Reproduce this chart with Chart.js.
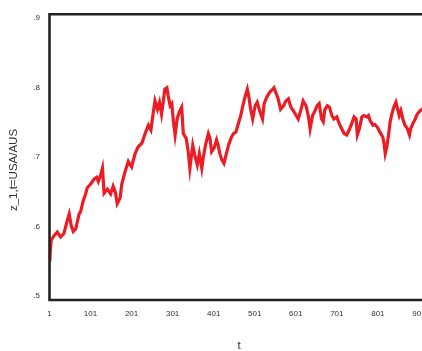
<!DOCTYPE html>
<html>
<head>
<meta charset="utf-8">
<script src="https://cdn.jsdelivr.net/npm/chart.js@4/dist/chart.umd.min.js"></script>
<style>
  html, body { margin: 0; padding: 0; background: #fff; overflow: hidden; width: 422px; height: 351px; }
  #wrap { width: 480px; height: 351px; }
</style>
</head>
<body>
<div id="wrap"><canvas id="c" width="480" height="351"></canvas></div>
<script>
// Time index t and the series z_1,t (USA/AUS)
const tValues = [
  1, 2, 5, 12, 20, 28, 36, 44, 49, 54,
  59, 65, 73, 77, 83, 89, 93, 101, 109, 116,
  120, 126, 130, 134, 142, 150, 156, 162, 166, 173,
  177, 185, 193, 201, 209, 217, 226, 234, 242, 248,
  254, 258, 264, 269, 274, 278, 282, 287, 290, 295,
  299, 303, 307, 312, 317, 323, 327, 334, 339, 343,
  350, 355, 361, 366, 372, 376, 382, 388, 392, 396,
  402, 408, 412, 416, 421, 426, 431, 437, 443, 449,
  455, 461, 467, 472, 477, 483, 487, 491, 496, 502,
  507, 514, 520, 524, 530, 537, 542, 548, 555, 558,
  564, 571, 577, 583, 589, 595, 602, 607, 613, 619,
  626, 632, 636, 642, 648, 653, 658, 664, 668, 672,
  678, 683, 689, 694, 701, 707, 713, 719, 725, 731,
  737, 743, 748, 751, 756, 762, 767, 774, 778, 782,
  789, 794, 800, 806, 813, 816, 819, 823, 827, 831,
  835, 840, 845, 848, 853, 857, 862, 867, 873, 878,
  881, 886, 892, 897, 904, 909, 912
];
const zValues = [
  .552, .556, .580, .587, .592, .585, .590, .608, .618, .601,
  .593, .597, .618, .622, .637, .647, .656, .661, .668, .671,
  .665, .675, .684, .648, .654, .647, .658, .648, .633, .641,
  .661, .679, .694, .686, .704, .715, .720, .734, .746, .739,
  .765, .781, .769, .779, .762, .779, .798, .800, .789, .774,
  .777, .751, .732, .755, .765, .772, .734, .727, .708, .684,
  .717, .703, .689, .705, .684, .701, .720, .734, .727, .708,
  .713, .725, .717, .705, .696, .691, .703, .717, .727, .734,
  .736, .748, .760, .774, .786, .798, .786, .769, .755, .774,
  .779, .765, .755, .777, .786, .793, .796, .800, .789, .784,
  .769, .774, .781, .784, .772, .767, .760, .755, .767, .781,
  .774, .758, .741, .760, .767, .774, .777, .755, .751, .769,
  .774, .772, .760, .755, .758, .748, .741, .734, .732, .739,
  .748, .758, .755, .732, .741, .758, .760, .758, .760, .753,
  .746, .747, .743, .736, .729, .720, .705, .715, .732, .751,
  .762, .772, .779, .772, .760, .767, .755, .746, .741, .732,
  .741, .748, .755, .762, .767, .769, .771
];
const xTicks = [1, 101, 201, 301, 401, 501, 601, 701, 801, 901, 1001];
const yTicks = [.5, .6, .7, .8, .9];
const yTitle = 'z_1,t=USA/AUS';
const xTitle = 't';

const FONT = '"Liberation Sans", Arial, Helvetica, sans-serif';

// Three-sided plot frame (top, left, bottom)
const framePlugin = {
  id: 'frame',
  afterDatasetsDraw(chart) {
    const { ctx, chartArea: a } = chart;
    ctx.save();
    ctx.strokeStyle = '#222';
    ctx.lineWidth = 2.6;
    ctx.lineJoin = 'miter';
    ctx.beginPath();
    ctx.moveTo(a.right + 20, a.top);
    ctx.lineTo(a.left, a.top);
    ctx.lineTo(a.left, a.bottom);
    ctx.lineTo(a.right + 20, a.bottom);
    ctx.stroke();
    ctx.restore();
  }
};

// Axis titles
const titlePlugin = {
  id: 'axisTitles',
  afterDraw(chart) {
    const { ctx } = chart;
    ctx.save();
    ctx.fillStyle = '#333';
    ctx.font = '11.5px ' + FONT;
    ctx.textAlign = 'center';
    ctx.textBaseline = 'middle';
    ctx.fillText(xTitle, 239, 346);
    ctx.translate(14, 170);
    ctx.rotate(-Math.PI / 2);
    ctx.fillText(yTitle, 0, 0);
    ctx.restore();
  }
};

new Chart(document.getElementById('c'), {
  type: 'line',
  data: {
    datasets: [{
      data: tValues.map((t, i) => ({ x: t, y: zValues[i] })),
      borderColor: '#ec1c24',
      borderWidth: 3.2,
      pointRadius: 0,
      tension: 0,
      fill: false
    }]
  },
  options: {
    responsive: false,
    devicePixelRatio: 1,
    animation: false,
    layout: { padding: { top: 11, right: 2, left: 0, bottom: 0 } },
    plugins: { legend: { display: false }, tooltip: { enabled: false } },
    scales: {
      x: {
        type: 'linear',
        min: 1,
        max: 1045,
        afterFit(s) { s.height = 51; },
        afterBuildTicks(s) { s.ticks = xTicks.map(v => ({ value: v })); },
        grid: { display: false, drawTicks: false },
        border: { display: false },
        ticks: {
          autoSkip: false,
          maxRotation: 0,
          padding: 9,
          color: '#333',
          font: { family: FONT, size: 8 },
          callback: v => String(v)
        }
      },
      y: {
        min: 0.4943,
        max: 0.9057,
        afterFit(s) { s.width = 49.5; },
        afterBuildTicks(s) { s.ticks = yTicks.map(v => ({ value: v })); },
        grid: { display: false, drawTicks: false },
        border: { display: false },
        ticks: {
          padding: 9.5,
          color: '#333',
          font: { family: FONT, size: 8 },
          callback: v => Number(v).toFixed(1).replace(/^0/, '')
        }
      }
    }
  },
  plugins: [framePlugin, titlePlugin]
});
</script>
</body>
</html>
